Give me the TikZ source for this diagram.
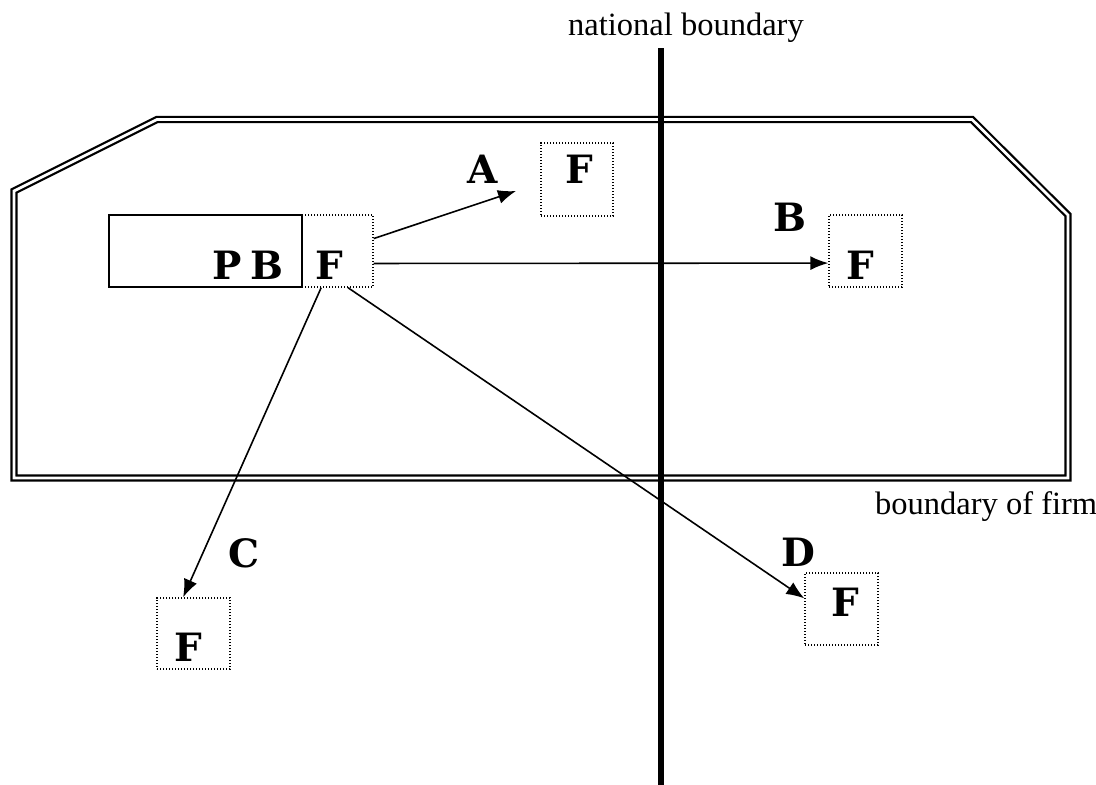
\documentclass[tikz,border=0pt]{standalone}
\usepackage{fontspec}
\setmainfont{Liberation Serif}
\newfontfamily\letfont{DejaVu Serif}
\usetikzlibrary{arrows.meta}
\tikzset{
  fbox/.style={draw, line width=1.4pt, dash pattern=on 1.4pt off 1.6pt, minimum width=72pt, minimum height=72pt, inner sep=0pt},
  pbbox/.style={draw, line width=1.6pt, minimum width=193pt, minimum height=72pt, inner sep=0pt},
  letter/.style={inner sep=0pt, font=\letfont\bfseries\fontsize{39}{39}\selectfont},
  caption/.style={inner sep=0pt, font=\fontsize{32.5}{34}\selectfont},
  arr/.style={line width=1.6pt, -{Latex[length=18pt,width=14pt]}},
  firm/.style={line width=2.2pt, double, double distance=2.8pt, line join=miter},
  nat/.style={line width=6pt}
}
\begin{document}
\begin{tikzpicture}[x=1pt,y=-1pt]
\useasboundingbox (0,0) rectangle (1096,785);
% boundary of firm
\draw[firm] (14,191) -- (157,119.5) -- (972,119.5) -- (1068,215) -- (1068,478) -- (14,478) -- cycle;
% national boundary
\coordinate (ntop) at (661,48);
\coordinate (nbot) at (661,785);
\draw[nat] (ntop) -- (nbot);
\node[caption, anchor=base west] (natlbl) at (568,35) {national boundary};
\node[caption, anchor=base west] (firmlbl) at (875,514) {boundary of firm};
% boxes
\node[pbbox] (pb) at (205.5,251) {};
\node[fbox, minimum width=71pt] (fmain) at (337.5,251) {};
\node[fbox, minimum height=73pt] (fA) at (577,179.5) {};
\node[fbox, minimum width=73pt] (fB) at (865.5,251) {};
\node[fbox, minimum width=73pt, minimum height=71pt] (fC) at (193.5,633.5) {};
\node[fbox, minimum width=73pt] (fD) at (841.5,609) {};
% letters
\node[letter] (pbt) at (248,265) {P\kern8pt B};
\node[letter] (fmt) at (329,265) {F};
\node[letter] (fAt) at (579,169) {F};
\node[letter] (fBt) at (860,265) {F};
\node[letter] (fCt) at (188,647) {F};
\node[letter] (fDt) at (845,602) {F};
\node[letter] (la) at (483,169) {A};
\node[letter] (lb) at (790,217) {B};
\node[letter] (lc) at (244,553) {C};
\node[letter] (ld) at (798,552) {D};
% arrows
\coordinate (aend) at (516,191);
\draw[arr] (fmain.19) -- (aend);
\draw[arr] (fmain.-19) -- (fB.198);
\draw[arr] (fmain.246.7) -- (fC.106.5);
\draw[arr] (fmain.286.3) -- (fD.164.7);
\end{tikzpicture}
\end{document}
